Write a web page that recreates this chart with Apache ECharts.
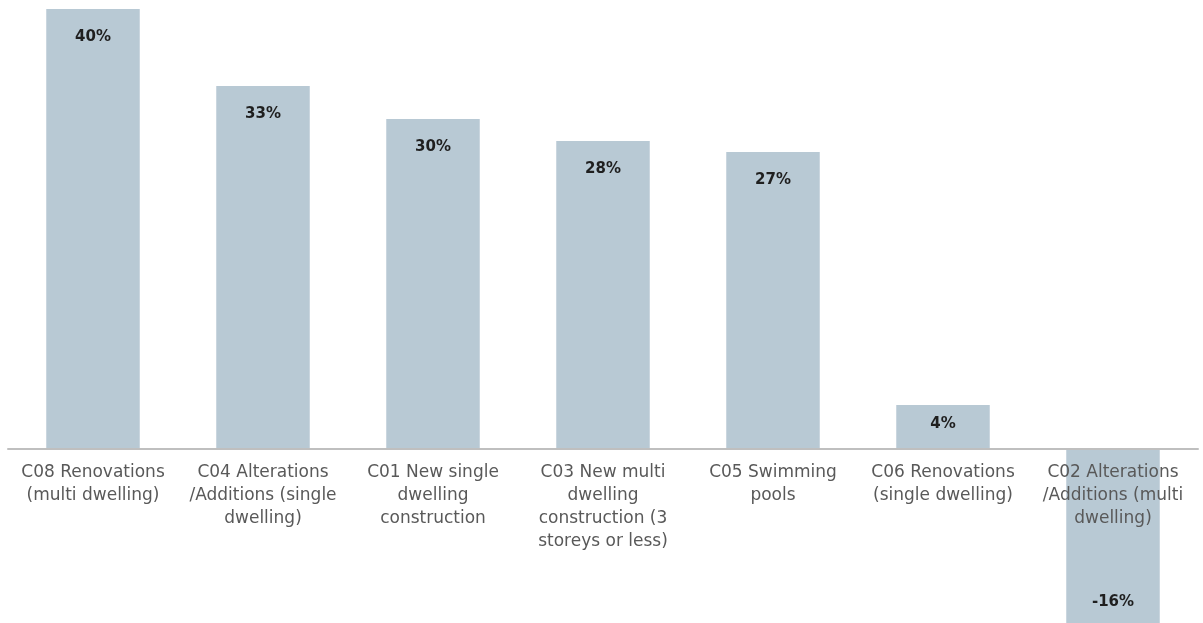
<!DOCTYPE html>
<html><head><meta charset="utf-8">
<script src="https://cdn.jsdelivr.net/npm/echarts@6/dist/echarts.min.js"></script>
<style>html,body{margin:0;padding:0;background:#fff}#c{width:1203px;height:623px}</style>
</head><body><div id="c"></div>
<script>
var categories = [
  "C08 Renovations\n(multi dwelling)",
  "C04 Alterations\n/Additions (single\ndwelling)",
  "C01 New single\ndwelling\nconstruction",
  "C03 New multi\ndwelling\nconstruction (3\nstoreys or less)",
  "C05 Swimming\npools",
  "C06 Renovations\n(single dwelling)",
  "C02 Alterations\n/Additions (multi\ndwelling)"
];
var values = [40, 33, 30, 28, 27, 4, -16];

var chart = echarts.init(document.getElementById('c'));
chart.setOption({
  animation: false,
  grid: {left: 8, width: 1190, top: 9, height: 616, outerBoundsMode: 'none', containLabel: false},
  xAxis: {
    type: 'category', data: categories, z: 5, offset: -176,
    axisLine: {onZero: false, lineStyle: {color: '#bfbfbf', width: 2}},
    axisTick: {show: false},
    axisLabel: {interval: 0, color: '#595959', fontSize: 17, lineHeight: 23, margin: 12,
      fontFamily: 'DejaVu Sans', align: 'center'}
  },
  yAxis: {type: 'value', min: -16, max: 40, show: false, splitLine: {show: false}},
  series: [{
    type: 'bar', barWidth: '55%',
    itemStyle: {color: '#b8c9d4'},
    data: values.map(function (v) {
      return {value: v, label: {position: v < 0 ? 'insideBottom' : 'insideTop',
        distance: v < 0 ? 15 : (v < 10 ? 12 : 21)}};
    }),
    label: {show: true, color: '#1f1f1f', fontWeight: 'bold', fontSize: 15,
      fontFamily: 'DejaVu Sans', formatter: function (p) { return p.value + '%'; }}
  }]
});
</script></body></html>
